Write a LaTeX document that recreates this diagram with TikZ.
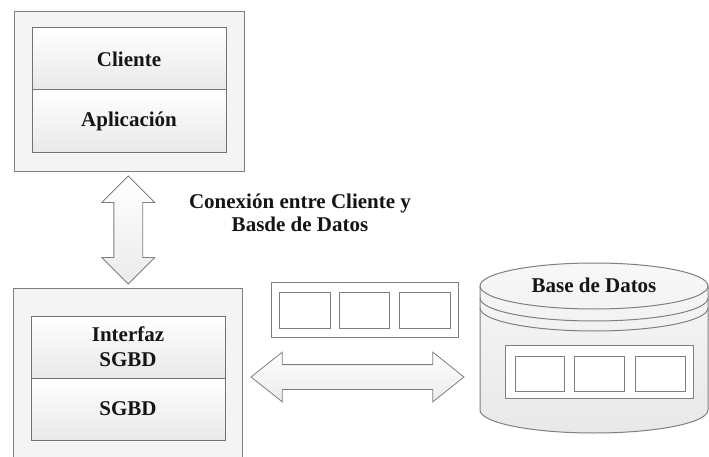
\documentclass[tikz,border=0pt]{standalone}
\usepackage{fontspec}
\setmainfont{Liberation Serif}
\usetikzlibrary{shapes.arrows,calc}
\definecolor{edge}{HTML}{7F7F7F}
\definecolor{panel}{HTML}{F4F4F4}
\definecolor{ink}{HTML}{151515}
\tikzset{
  outerbox/.style={draw=edge, line width=1pt, fill=panel, inner sep=0pt},
  layerbox/.style={draw=edge!90!black, line width=1pt, top color=white, bottom color=black!9,
    inner sep=0pt, minimum width=194pt, minimum height=62pt,
    font=\fontsize{21}{25}\selectfont\bfseries, text=ink, align=center},
  cellbox/.style={draw=edge, line width=1pt, fill=white, inner sep=0pt},
  fatarrow/.style={double arrow, draw=edge, line width=0.8pt, top color=white, bottom color=black!8,
    inner xsep=0pt},
  caption/.style={font=\fontsize{21}{23}\selectfont\bfseries, text=ink, align=center}
}
\begin{document}
\begin{tikzpicture}[x=1pt,y=-1pt]
\useasboundingbox (0,0) rectangle (709,457);
\clip (0,0) rectangle (709,457);
\fill[white] (0,0) rectangle (709,457);

% client side
\node[outerbox, minimum width=230pt, minimum height=160pt] (clientpanel) at (129,92) {};
\node[layerbox] (cli) at (129,59) {Cliente};
\node[layerbox, minimum height=63pt] (app) at (129,121.5) {Aplicación};

% server side (runs off the lower edge)
\node[outerbox, minimum width=229pt, minimum height=182pt] (dbmspanel) at (127.5,379) {};
\node[layerbox] (ifz) at (128,347) {Interfaz\\SGBD};
\node[layerbox] (sgbd) at (128,409) {SGBD};

% vertical link
\node[fatarrow, rotate=90, minimum height=108pt, inner ysep=14pt,
      double arrow head extend=12pt, double arrow tip angle=90] (link)
      at ($(clientpanel.south)!0.5!(dbmspanel.north)$) {};
\node[caption] (linklabel) at (300,213) {Conexión entre Cliente y\\Basde de Datos};

% record in transit
\node[cellbox, minimum width=187pt, minimum height=55pt] (pkt) at (364.5,309.5) {};
\node[cellbox, minimum width=51pt, minimum height=36pt] (pa) at (304.5,310) {};
\node[cellbox, minimum width=50pt, minimum height=36pt] (pb) at (364,310) {};
\node[cellbox, minimum width=51pt, minimum height=36pt] (pc) at (424.5,310) {};

% database cylinder
\coordinate (dbtl) at (480,286);
\coordinate (dbbl) at (480,410);
\coordinate (dbtr) at (708,286);
\draw[draw=edge, line width=1pt, top color=black!3, bottom color=black!9]
  (dbtl) -- (dbbl) arc[start angle=180, end angle=360, x radius=114pt, y radius=23pt]
  -- (dbtr) arc[start angle=0, end angle=180, x radius=114pt, y radius=23pt] -- cycle;
\draw[edge, line width=1pt] (dbtl) arc[start angle=180, end angle=360, x radius=114pt, y radius=23pt];
\draw[edge, line width=1pt] (480,298) arc[start angle=180, end angle=360, x radius=114pt, y radius=23pt];
\draw[edge, line width=1pt] (480,308) arc[start angle=180, end angle=360, x radius=114pt, y radius=23pt];
\node[caption] (dbname) at (594,285) {Base de Datos};
\node[cellbox, minimum width=188pt, minimum height=53pt] (tbl) at (599,371.5) {};
\node[cellbox, minimum width=49pt, minimum height=35pt] (ta) at (539.5,373.5) {};
\node[cellbox, minimum width=50pt, minimum height=35pt] (tb) at (599,373.5) {};
\node[cellbox, minimum width=50pt, minimum height=35pt] (tc) at (660,373.5) {};

% horizontal link
\node[fatarrow, minimum height=213pt, inner ysep=12pt,
      double arrow head extend=12.5pt, double arrow tip angle=77] (xfer)
      at (357.5,377) {};
\end{tikzpicture}
\end{document}
